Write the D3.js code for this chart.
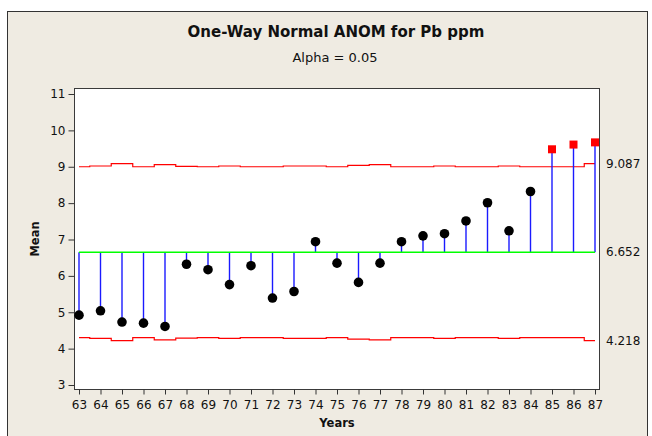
<!DOCTYPE html>
<html>
<head>
<meta charset="utf-8">
<script src="https://cdn.jsdelivr.net/npm/d3@7"></script>
<style>
  body { margin: 0; background: #fff; }
  text { font-family: "DejaVu Sans", sans-serif; fill: #111; }
</style>
</head>
<body>
<div id="content"></div>
<script>
const w = 652
const h = 436

// data
const years = [63, 64, 65, 66, 67, 68, 69, 70, 71, 72, 73, 74, 75, 76, 77, 78, 79, 80, 81, 82, 83, 84, 85, 86, 87]
const means = [4.92, 5.04, 4.73, 4.70, 4.61, 6.32, 6.17, 5.76, 6.28, 5.39, 5.57, 6.94, 6.35,
               5.82, 6.35, 6.94, 7.10, 7.16, 7.51, 8.01, 7.24, 8.32, 9.48, 9.61, 9.67]
const udl = [9.00, 9.02, 9.087, 9.00, 9.06, 9.01, 9.00, 9.02, 9.00, 9.00, 9.02, 9.02, 9.00,
             9.04, 9.06, 9.00, 9.00, 9.02, 9.00, 9.00, 9.02, 9.00, 9.00, 9.00, 9.087]
const ldl = [4.30, 4.28, 4.218, 4.30, 4.24, 4.29, 4.30, 4.28, 4.30, 4.30, 4.28, 4.28, 4.30,
             4.26, 4.24, 4.30, 4.30, 4.28, 4.30, 4.30, 4.28, 4.30, 4.30, 4.30, 4.218]
const center = 6.652
const yTicks = [3, 4, 5, 6, 7, 8, 9, 10, 11]
const rightLabels = [9.087, 6.652, 4.218]

let svg = d3.select("#content")
            .append("svg")
            .attr("width", w)
            .attr("height", h)

// outer frame
svg.append("rect")
   .attr("x", 7.5).attr("y", 11.5)
   .attr("width", 640).attr("height", 430)
   .attr("fill", "#efebe2")
   .attr("stroke", "#333")

const plot = {left: 74, top: 88, right: 599, bottom: 389}

svg.append("rect")
   .attr("x", plot.left + 0.5).attr("y", plot.top + 0.5)
   .attr("width", plot.right - plot.left).attr("height", plot.bottom - plot.top)
   .attr("fill", "#fff")
   .attr("stroke", "#3a3a3a")

x = d3.scaleLinear().domain([63, 87]).range([79, 595])
y = d3.scaleLinear().domain([3, 11]).range([385, 94])

// axes
let yAxis = svg.append("g")
   .attr("transform", "translate(" + (plot.left + 0.5) + ",0)")
   .call(d3.axisLeft(y).tickValues(yTicks).tickSize(6).tickPadding(3).tickSizeOuter(0))
yAxis.select(".domain").remove()
yAxis.selectAll("line").attr("stroke", "#333")
yAxis.selectAll("text").style("font-size", "12px").attr("fill", "#111")

let xAxis = svg.append("g")
   .attr("transform", "translate(0," + (plot.bottom + 0.5) + ")")
   .call(d3.axisBottom(x).tickValues(years).tickSize(5).tickPadding(6).tickSizeOuter(0))
xAxis.select(".domain").remove()
xAxis.selectAll("line").attr("stroke", "#333")
xAxis.selectAll("text").style("font-size", "12px").attr("fill", "#111")

// decision limits (step lines)
let step = d3.line().curve(d3.curveStep).x((d, i) => x(years[i])).y(d => y(d))
svg.append("path").datum(udl).attr("d", step)
   .attr("fill", "none").attr("stroke", "#ff0000").attr("stroke-width", 1.2)
svg.append("path").datum(ldl).attr("d", step)
   .attr("fill", "none").attr("stroke", "#ff0000").attr("stroke-width", 1.2)

// stems
svg.selectAll(".stem")
   .data(means)
   .enter()
   .append("line")
     .attr("class", "stem")
     .attr("x1", (d, i) => x(years[i]))
     .attr("x2", (d, i) => x(years[i]))
     .attr("y1", y(center))
     .attr("y2", d => y(d))
     .attr("stroke", "#1a1aff")
     .attr("stroke-width", 1.4)

// center line
svg.append("line")
   .attr("x1", x(years[0])).attr("x2", x(years[years.length - 1]))
   .attr("y1", y(center)).attr("y2", y(center))
   .attr("stroke", "#00ff00").attr("stroke-width", 1.5)

// points
let pts = means.map((m, i) => ({year: years[i], mean: m, out: m > udl[i] || m < ldl[i]}))

svg.selectAll("circle")
   .data(pts.filter(d => !d.out))
   .enter()
   .append("circle")
     .attr("cx", d => x(d.year))
     .attr("cy", d => y(d.mean))
     .attr("r", 4.8)
     .attr("fill", "#000")

svg.selectAll(".outpt")
   .data(pts.filter(d => d.out))
   .enter()
   .append("rect")
     .attr("class", "outpt")
     .attr("x", d => x(d.year) - 4)
     .attr("y", d => y(d.mean) - 4)
     .attr("width", 8)
     .attr("height", 8)
     .attr("fill", "#ff0000")

// right side labels
svg.selectAll(".rlab")
   .data(rightLabels)
   .enter()
   .append("text")
     .attr("class", "rlab")
     .attr("x", 606)
     .attr("y", d => y(d))
     .attr("dy", "0.36em")
     .style("font-size", "12px")
     .text(d => d3.format(".3f")(d))

// titles
svg.append("text")
   .attr("x", 336).attr("y", 37)
   .attr("text-anchor", "middle")
   .style("font-size", "15px").style("font-weight", "bold")
   .text("One-Way Normal ANOM for Pb ppm")
svg.append("text")
   .attr("x", 335).attr("y", 62)
   .attr("text-anchor", "middle")
   .style("font-size", "13px")
   .text("Alpha = 0.05")

svg.append("text")
   .attr("x", 337).attr("y", 427)
   .attr("text-anchor", "middle")
   .style("font-size", "11.5px").style("font-weight", "bold")
   .text("Years")
svg.append("text")
   .attr("transform", "translate(39,239) rotate(-90)")
   .attr("text-anchor", "middle")
   .style("font-size", "11.5px").style("font-weight", "bold")
   .text("Mean")
</script>
</body>
</html>
